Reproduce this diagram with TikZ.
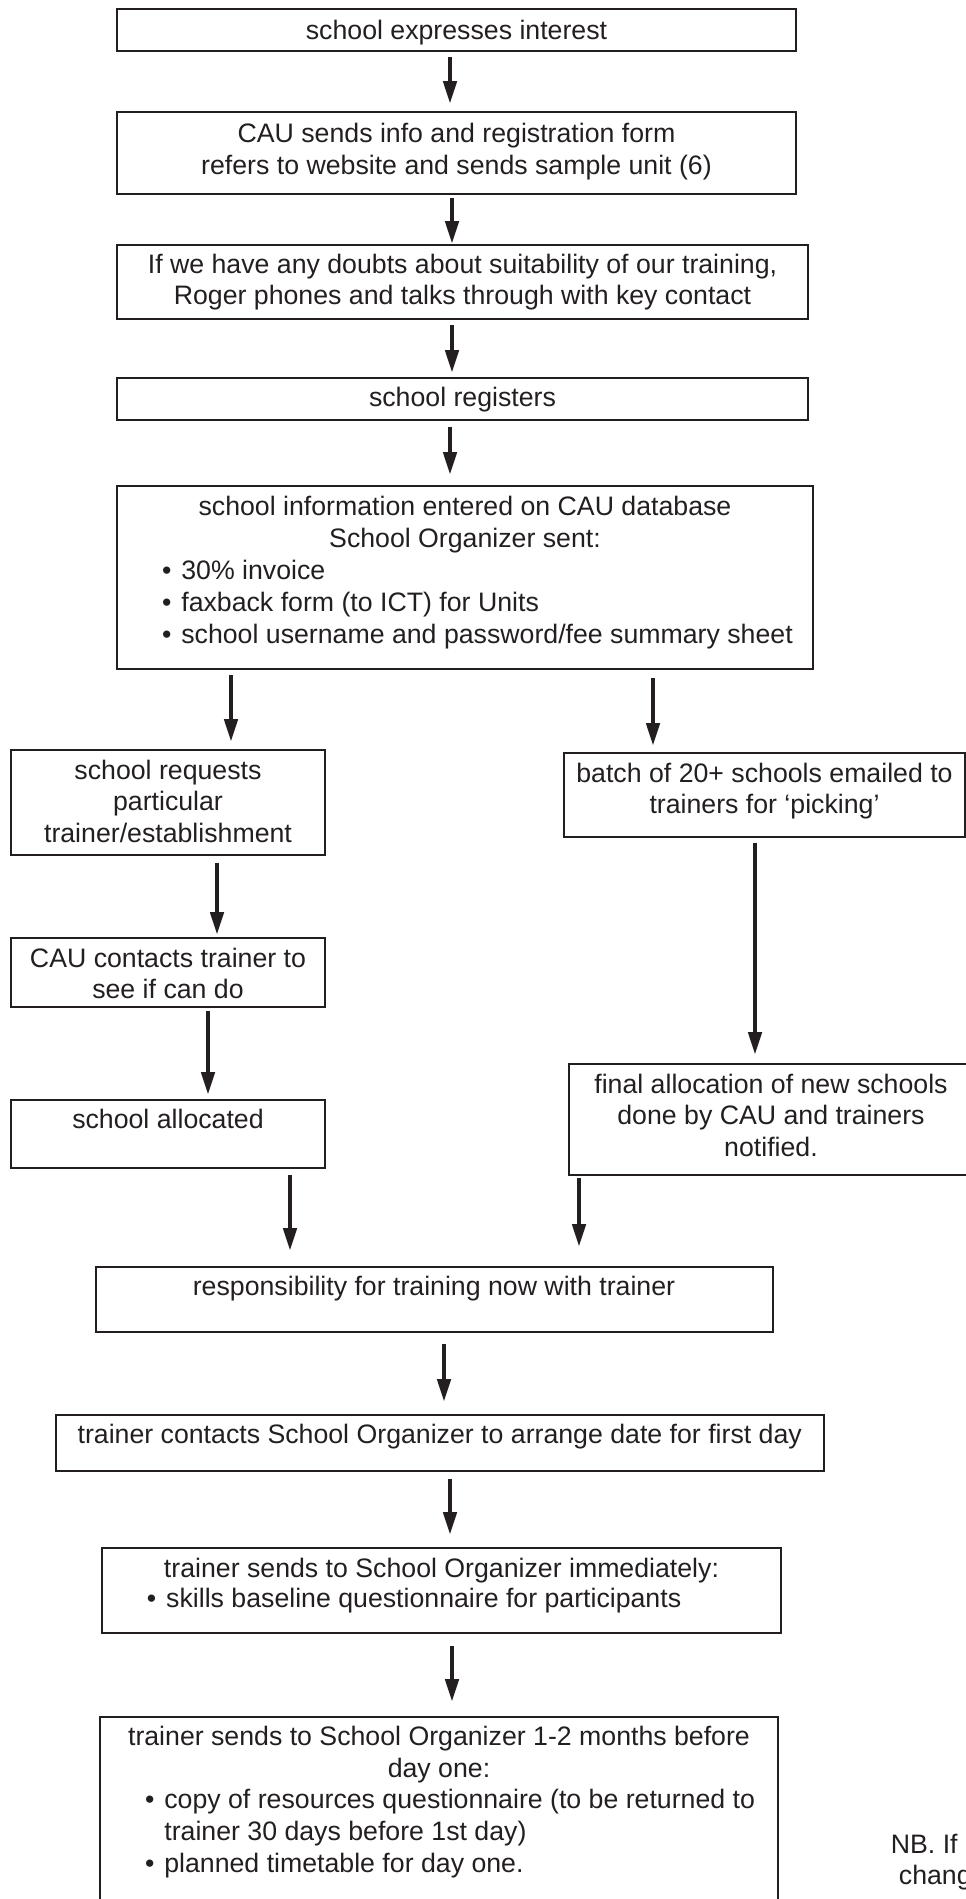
\documentclass[tikz,border=0pt]{standalone}
\usepackage{fontspec}
\setmainfont{Liberation Sans}
\usetikzlibrary{arrows.meta}

\definecolor{ink}{RGB}{35,31,32}

\begin{document}
\begin{tikzpicture}[x=1pt, y=-1pt,
    font=\fontsize{26.7}{31.7}\selectfont,
    frame/.style={draw=ink, line width=2pt, inner sep=0pt, outer sep=0pt},
    txt/.style={inner sep=0pt, anchor=north, align=center, text=ink},
    items/.style={inner sep=0pt, anchor=north west, align=left, text=ink},
    flow/.style={draw=ink, line width=4.5pt, -{Triangle[length=23pt, width=13pt]}}]
    \useasboundingbox (0,0) rectangle (966,1899);
    \clip (0,0) rectangle (966,1899);

    % main column
    \node[frame, minimum width=679, minimum height=42] (interest) at (456.5,30) {};
    \node[txt] (t-interest) at (456.5,20.2) {school expresses interest};

    \node[frame, minimum width=679, minimum height=82] (info) at (456.5,153) {};
    \node[txt] (t-info) at (456.5,123) {CAU sends info and registration form\\refers to website and sends sample unit (6)};

    \node[frame, minimum width=691, minimum height=74] (doubts) at (462.5,282) {};
    \node[txt] (t-doubts) at (462.5,253.7) {If we have any doubts about suitability of our training,\\Roger phones and talks through with key contact};

    \node[frame, minimum width=691, minimum height=42] (register) at (462.5,399) {};
    \node[txt] (t-register) at (462.5,386.9) {school registers};

    \node[frame, minimum width=696, minimum height=183] (database) at (465,577.5) {};
    \node[txt] (t-database) at (465,496.2) {school information entered on CAU database\\School Organizer sent:};
    \node[items] (i-database) at (161.8,560.2) {\textbullet\hspace{10pt}30\% invoice\\\textbullet\hspace{10pt}faxback form (to ICT) for Units\\\textbullet\hspace{10pt}school username and password/fee summary sheet};

    % left branch
    \node[frame, minimum width=314, minimum height=105] (request) at (168,802.5) {};
    \node[txt] (t-request) at (168,759.5) {school requests\\particular\\trainer/establishment};

    \node[frame, minimum width=314, minimum height=69] (contact) at (168,972.5) {};
    \node[txt] (t-contact) at (168,947.6) {CAU contacts trainer to\\see if can do};

    \node[frame, minimum width=314, minimum height=68] (allocated) at (168,1134) {};
    \node[txt] (t-allocated) at (168,1109.2) {school allocated};

    % right branch
    \node[frame, minimum width=401, minimum height=84] (batch) at (764.5,795) {};
    \node[txt] (t-batch) at (764.5,762.6) {batch of 20+ schools emailed to\\trainers for `picking'};

    \node[frame, minimum width=404, minimum height=111] (final) at (771,1119.5) {};
    \node[txt] (t-final) at (771,1073.6) {final allocation of new schools\\done by CAU and trainers\\notified.};

    % after allocation
    \node[frame, minimum width=677, minimum height=65] (responsibility) at (434,1299.5) {};
    \node[txt] (t-responsibility) at (434,1275.9) {responsibility for training now with trainer};

    \node[frame, minimum width=768.5, minimum height=56] (arrange) at (439.75,1443) {};
    \node[txt] (t-arrange) at (439.75,1424.2) {trainer contacts School Organizer to arrange date for first day};

    \node[frame, minimum width=679, minimum height=85] (immediately) at (441.5,1590.5) {};
    \node[txt] (t-immediately) at (441.5,1557.6) {trainer sends to School Organizer immediately:};
    \node[items] (i-immediately) at (146.7,1587.6) {\textbullet\hspace{10pt}skills baseline questionnaire for participants};

    \node[frame, minimum width=678, minimum height=208] (months) at (439,1821) {};
    \node[txt] (t-months) at (439,1725.9) {trainer sends to School Organizer 1-2 months before\\day one:};
    \node[items] (i-months) at (144.8,1789.2) {\textbullet\hspace{10pt}copy of resources questionnaire (to be returned to\\\phantom{\textbullet}\hspace{10pt}trainer 30 days before 1st day)\\\textbullet\hspace{10pt}planned timetable for day one.};

    \node[items] (note) at (890.7,1833.6) {NB. If\\\hspace*{8pt}chang};

    % arrows
    \draw[flow, shorten <=6, shorten >=8] ([xshift=-6.5]interest.south) -- ([xshift=-6.5]info.north);
    \draw[flow, shorten <=4, shorten >=1] ([xshift=-4.5]info.south) -- ([xshift=-10.5]doubts.north);
    \draw[flow, shorten <=6, shorten >=5] ([xshift=-10.5]doubts.south) -- ([xshift=-10.5]register.north);
    \draw[flow, shorten <=7, shorten >=11] ([xshift=-12.5]register.south) -- ([xshift=-15]database.north);
    \draw[flow, shorten <=6, shorten >=8] ([xshift=-234]database.south) -- ([xshift=63]request.north);
    \draw[flow, shorten <=9, shorten >=7] ([xshift=188]database.south) -- ([xshift=-111.5]batch.north);
    \draw[flow, shorten <=8, shorten >=3] ([xshift=49]request.south) -- ([xshift=49]contact.north);
    \draw[flow, shorten <=4, shorten >=5] ([xshift=40]contact.south) -- ([xshift=40]allocated.north);
    \draw[flow, shorten <=6, shorten >=9] ([xshift=-9.5]batch.south) -- ([xshift=-16]final.north);
    \draw[flow, shorten <=7, shorten >=16] ([xshift=122]allocated.south) -- ([xshift=-144]responsibility.north);
    \draw[flow, shorten <=3, shorten >=20] ([xshift=-192]final.south) -- ([xshift=145]responsibility.north);
    \draw[flow, shorten <=12, shorten >=13] ([xshift=10]responsibility.south) -- ([xshift=4.25]arrange.north);
    \draw[flow, shorten <=8, shorten >=13] ([xshift=10.25]arrange.south) -- ([xshift=8.5]immediately.north);
    \draw[flow, shorten <=13, shorten >=15] ([xshift=10.5]immediately.south) -- ([xshift=13]months.north);
\end{tikzpicture}
\end{document}
